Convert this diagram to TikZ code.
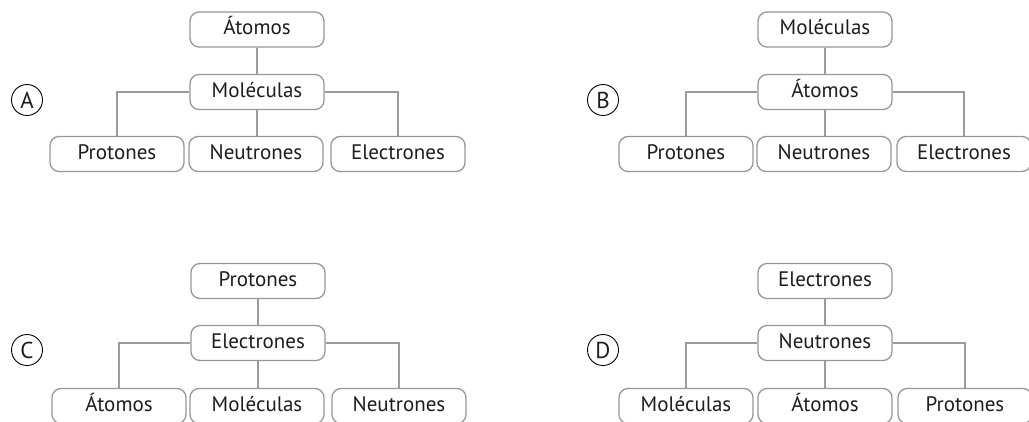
\documentclass[tikz,border=0pt]{standalone}
\usepackage{fontspec}
\setmainfont{PT Sans}
\usetikzlibrary{positioning}
\definecolor{boxcolor}{RGB}{150, 150, 150}
\definecolor{wirecolor}{RGB}{155, 155, 155}
\definecolor{labelcolor}{RGB}{30, 28, 28}
\tikzset{
treebox/.style={
  draw=boxcolor,
  line width=1.3pt,
  rounded corners=9pt,
  minimum width=134pt,
  minimum height=35pt,
  inner sep=0pt,
  font=\fontsize{21}{24}\selectfont,
  text=labelcolor,
  text height=14.5pt,
  text depth=4.5pt
},
wire/.style={
  draw=wirecolor,
  line width=1.3pt
},
letterring/.style={
  circle,
  draw=black,
  line width=0.9pt,
  minimum size=31pt,
  inner sep=0pt,
  font=\fontsize{23}{26}\selectfont,
  text=labelcolor,
  text height=16pt,
  text depth=0pt
}
}

\begin{document}
\begin{tikzpicture}[x=1pt, y=-1pt]
        \clip (0, 0) rectangle (1029, 421);

        % Option A
        \node[letterring] (a-letter) at (27, 100) {A};
        \node[treebox] (a-top) at (257, 29.5) {Átomos};
        \node[treebox] (a-mid) at (257, 92) {Moléculas};
        \node[treebox] (a-left) at (117, 154) {Protones};
        \node[treebox] (a-center) at (256, 154) {Neutrones};
        \node[treebox] (a-right) at (398, 154) {Electrones};
        \draw[wire] (a-top) -- (a-mid);
        \draw[wire] (a-mid.west) -| (a-left);
        \draw[wire] (a-mid.south) -- (a-mid.south |- a-center.north);
        \draw[wire] (a-mid.east) -| (a-right);

        % Option B
        \node[letterring] (b-letter) at (603, 100) {B};
        \node[treebox] (b-top) at (825, 29.5) {Moléculas};
        \node[treebox] (b-mid) at (825, 92) {Átomos};
        \node[treebox] (b-left) at (686, 154) {Protones};
        \node[treebox] (b-center) at (824, 154) {Neutrones};
        \node[treebox] (b-right) at (964, 154) {Electrones};
        \draw[wire] (b-top) -- (b-mid);
        \draw[wire] (b-mid.west) -| (b-left);
        \draw[wire] (b-mid.south) -- (b-mid.south |- b-center.north);
        \draw[wire] (b-mid.east) -| (b-right);

        % Option C
        \node[letterring] (c-letter) at (27, 350) {C};
        \node[treebox] (c-top) at (258, 281) {Protones};
        \node[treebox] (c-mid) at (258, 343) {Electrones};
        \node[treebox] (c-left) at (119, 406) {Átomos};
        \node[treebox] (c-center) at (257, 406) {Moléculas};
        \node[treebox] (c-right) at (399, 406) {Neutrones};
        \draw[wire] (c-top) -- (c-mid);
        \draw[wire] (c-mid.west) -| (c-left);
        \draw[wire] (c-mid.south) -- (c-mid.south |- c-center.north);
        \draw[wire] (c-mid.east) -| (c-right);

        % Option D
        \node[letterring] (d-letter) at (603, 350) {D};
        \node[treebox] (d-top) at (825, 281) {Electrones};
        \node[treebox] (d-mid) at (825, 343) {Neutrones};
        \node[treebox] (d-left) at (686, 406) {Moléculas};
        \node[treebox] (d-center) at (825, 406) {Átomos};
        \node[treebox] (d-right) at (965, 406) {Protones};
        \draw[wire] (d-top) -- (d-mid);
        \draw[wire] (d-mid.west) -| (d-left);
        \draw[wire] (d-mid.south) -- (d-mid.south |- d-center.north);
        \draw[wire] (d-mid.east) -| (d-right);
      \end{tikzpicture}
\end{document}
